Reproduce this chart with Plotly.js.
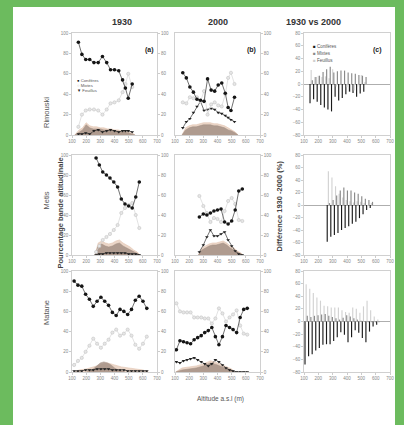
<!DOCTYPE html>
<html><head><meta charset="utf-8">
<script src="https://cdn.plot.ly/plotly-3.0.1.min.js"></script>
<style>html,body{margin:0;padding:0;background:#6cbb5e;}#chart{width:404px;height:425px;}</style>
</head><body><div id="chart"></div>
<script>
// ---------- DATA ----------
const altTicks = [100, 200, 300, 400, 500, 600, 700];
const seriesNames = ['Conifères', 'Mixtes', 'Feuillus'];
const colTitles = ['1930', '2000', '1930 vs 2000'];
const rowNames = ['Rimouski', 'Metis', 'Matane'];
const panelTags = ['(a)', '(b)', '(c)'];

// Rimouski 1930
const rimAlt30 = [145,170,197,225,255,285,315,345,372,400,430,457,477,497,525];
const rimCon30 = [91,79,74,74,71,71,77,71,64,64,63,54,46,36,50];
const rimMix30 = [8,20,24,25,25,24,20,25,31,32,34,42,50,60,47];
const rimFeu30 = [1,1,2,1,4,5,3,4,5,4,3,4,4,4,3];
const rimSAlt30 = [120,150,175,200,225,250,275,300,325,350,375,400,425,450,475,500,525,545];
const rimSDark30 = [0,3,5,10,7,6,6,6,5,5,5,4,4,3,3,2,1,0];
const rimSLight30 = [0,5,7,12,9,8,8,7,7,6,6,5,5,4,4,3,2,0];
// Rimouski 2000
const rimAlt00 = [155,180,205,230,255,280,305,330,355,380,405,430,455,475,495,520];
const rimCon00 = [61,56,47,42,35,34,33,55,44,43,49,51,41,27,24,37];
const rimMix00 = [32,31,37,36,37,33,43,20,30,32,29,28,40,56,61,50];
const rimFeu00 = [7,13,16,22,28,33,24,25,26,25,22,21,19,17,15,13];
const rimSAlt00 = [150,175,200,225,250,275,300,325,350,375,400,425,450,475,500,525,545];
const rimSDark00 = [0,5,7,8,8,9,10,10,10,9,9,8,7,5,4,2,0];
const rimSLight00 = [0,7,9,10,10,11,12,12,12,11,11,10,9,7,5,3,0];
// Rimouski difference
const rimDAlt = [150,175,200,225,250,275,300,325,350,375,400,425,450,475,500,525];
const rimDCon = [-30,-24,-28,-33,-37,-40,-43,-20,-26,-22,-16,-12,-14,-20,-15,-12];
const rimDMix = [22,11,13,11,12,9,23,-4,0,0,-5,-12,-10,-4,14,3];
const rimDFeu = [6,11,13,19,23,27,18,20,21,21,18,17,16,14,13,11];

// Metis 1930
const metAlt30 = [270,293,317,343,368,395,422,448,474,500,525,550,575];
const metCon30 = [97,90,83,80,77,73,68,56,51,49,47,58,73];
const metMix30 = [3,9,15,18,21,25,30,42,47,50,52,40,27];
const metFeu30 = [0,1,1,2,2,2,2,2,2,1,1,1,0];
const metSAlt30 = [262,285,310,335,360,385,410,435,460,485,510,535,560,580];
const metSDark30 = [0,9,11,9,8,9,11,12,9,7,5,3,1,0];
const metSLight30 = [0,12,14,12,11,12,14,15,12,10,8,5,3,0];
// Metis 2000
const metAlt00 = [272,300,325,350,375,400,425,450,475,500,525,550,575];
const metCon00 = [38,41,40,42,44,45,46,33,31,34,45,64,66];
const metMix00 = [59,49,42,33,37,36,33,44,54,57,51,35,34];
const metFeu00 = [3,10,18,25,19,19,21,23,15,9,4,1,0];
const metSAlt00 = [265,290,315,340,365,390,415,440,465,490,515,540,565,580];
const metSDark00 = [0,5,7,9,10,10,11,12,10,7,5,3,1,0];
const metSLight00 = [0,7,9,11,12,12,13,14,12,9,7,4,2,0];
// Metis difference
const metDAlt = [270,295,320,345,370,395,420,445,470,495,520,545,570];
const metDCon = [-59,-51,-48,-45,-40,-37,-34,-30,-27,-21,-15,-8,-5];
const metDMix = [54,44,30,18,12,8,6,4,6,5,3,-2,3];
const metDFeu = [3,8,15,23,28,23,23,20,18,14,10,8,5];

// Matane 1930
const matAlt30 = [115,142,169,196,223,250,277,304,331,358,385,412,439,466,493,520,547,574,601,628];
const matCon30 = [90,86,85,77,72,65,70,74,70,66,59,56,62,60,57,62,71,75,70,63];
const matMix30 = [7,11,14,20,26,33,28,24,28,32,39,42,36,38,42,36,27,23,28,35];
const matFeu30 = [1,1,1,2,2,2,3,3,3,3,2,2,2,2,1,1,1,1,1,1];
const matSAltD30 = [200,225,250,275,300,325,350,375,400,425,450,475];
const matSDark30 = [0,1,3,6,9,10,9,7,4,2,1,0];
const matSAltL30 = [120,150,200,250,300,350,400,450,500,550,600,640];
const matSLight30 = [0,2,3,5,7,9,7,5,4,3,2,0];
// Matane 2000
const matAlt00 = [110,135,160,185,210,235,260,285,310,335,360,385,410,435,460,485,510,535,560,585,610];
const matCon00 = [22,31,30,29,28,32,34,36,39,41,44,35,27,35,46,44,42,39,54,62,63];
const matMix00 = [68,60,59,59,59,54,54,54,53,53,48,53,63,58,50,54,57,61,46,38,37];
const matFeu00 = [10,9,11,12,13,14,12,10,8,6,8,12,10,7,4,2,1,0,0,0,0];
const matSAlt00 = [105,150,200,250,300,350,400,450,500,520];
const matSDark00 = [0,2,3,4,6,9,7,4,2,0];
const matSLight00 = [0,4,5,6,8,11,9,6,3,0];
// Matane difference
const matDAlt = [115,140,165,190,215,240,265,290,315,340,365,390,415,440,465,490,515,540,565,590,615];
const matDCon = [-68,-55,-52,-46,-42,-37,-36,-36,-31,-25,-17,-21,-33,-25,-14,-18,-26,-33,-16,-8,-5];
const matDMix = [59,52,45,38,33,25,24,22,22,22,18,15,14,22,20,14,24,33,18,8,3];
const matDFeu = [9,7,9,10,11,12,9,7,5,3,6,10,8,5,3,1,0,-1,-1,-1,-1];

// ---------- LAYOUT HELPERS ----------
const W = 404, H = 425;
const FONT = 'Liberation Sans, Arial, sans-serif';
const colX = [[72,157],[175,260],[304,390]];
const rowY = [[33,135],[155,255],[271,372]];
const px = v => v / W, py = v => 1 - v / H;

const lines = [
  {row:0, alt:rimAlt30, con:rimCon30, mix:rimMix30, feu:rimFeu30, sAltD:rimSAlt30, sD:rimSDark30, sAltL:rimSAlt30, sL:rimSLight30, col:0},
  {row:0, alt:rimAlt00, con:rimCon00, mix:rimMix00, feu:rimFeu00, sAltD:rimSAlt00, sD:rimSDark00, sAltL:rimSAlt00, sL:rimSLight00, col:1},
  {row:1, alt:metAlt30, con:metCon30, mix:metMix30, feu:metFeu30, sAltD:metSAlt30, sD:metSDark30, sAltL:metSAlt30, sL:metSLight30, col:0},
  {row:1, alt:metAlt00, con:metCon00, mix:metMix00, feu:metFeu00, sAltD:metSAlt00, sD:metSDark00, sAltL:metSAlt00, sL:metSLight00, col:1},
  {row:2, alt:matAlt30, con:matCon30, mix:matMix30, feu:matFeu30, sAltD:matSAltD30, sD:matSDark30, sAltL:matSAltL30, sL:matSLight30, col:0},
  {row:2, alt:matAlt00, con:matCon00, mix:matMix00, feu:matFeu00, sAltD:matSAlt00, sD:matSDark00, sAltL:matSAlt00, sL:matSLight00, col:1}
];
const diffs = [
  {row:0, alt:rimDAlt, con:rimDCon, mix:rimDMix, feu:rimDFeu},
  {row:1, alt:metDAlt, con:metDCon, mix:metDMix, feu:metDFeu},
  {row:2, alt:matDAlt, con:matDCon, mix:matDMix, feu:matDFeu}
];

const traces = [];
const layout = {
  width: W, height: H,
  margin: {l:0, r:0, t:0, b:0},
  paper_bgcolor: '#6cbb5e',
  plot_bgcolor: 'white',
  showlegend: false,
  barmode: 'group', bargap: 0.04, bargroupgap: 0,
  font: {family: FONT, color: '#444'},
  shapes: [{type:'rect', xref:'paper', yref:'paper', x0:px(13), x1:px(395), y0:0, y1:py(7),
            fillcolor:'white', line:{width:0}, layer:'below'}],
  annotations: []
};
const tickFont = {family: FONT, size: 4.5, color: '#888'};
const axBase = {ticks:'outside', ticklen:2, tickwidth:0.6, tickcolor:'#aaa', showline:true,
  linecolor:'#c4c4c4', linewidth:0.8, mirror:true, showgrid:false, zeroline:false, tickfont:tickFont, fixedrange:true};

function ids(row, col) {
  const k = row*3 + col + 1;
  return {xa: k===1 ? 'x' : 'x'+k, ya: k===1 ? 'y' : 'y'+k,
          xk: k===1 ? 'xaxis' : 'xaxis'+k, yk: k===1 ? 'yaxis' : 'yaxis'+k};
}

for (let r = 0; r < 3; r++) {
  for (let c = 0; c < 3; c++) {
    const id = ids(r, c);
    layout[id.xk] = Object.assign({}, axBase, {
      domain:[px(colX[c][0]), px(colX[c][1])], anchor:id.ya,
      range:[100,700], tickvals:altTicks, ticktext:altTicks.map(String)});
    if (c < 2) {
      layout[id.yk] = Object.assign({}, axBase, {
        domain:[py(rowY[r][1]), py(rowY[r][0])], anchor:id.xa,
        range:[0,100], dtick:20, side: c===0 ? 'left' : 'right'});
    } else {
      layout[id.yk] = Object.assign({}, axBase, {
        domain:[py(rowY[r][1]), py(rowY[r][0])], anchor:id.xa,
        range:[-80,80], dtick:20, side:'left',
        zeroline:true, zerolinecolor:'#9a9a9a', zerolinewidth:0.8});
    }
  }
  // right-side labels for column a
  const ida = ids(r, 0);
  const rk = 'yaxis' + (10 + r);
  layout[rk] = Object.assign({}, axBase, {overlaying: ida.ya, anchor: ida.xa, side:'right',
    range:[0,100], dtick:20, showline:false, mirror:false});
  traces.push({type:'scatter', x:[], y:[], xaxis:ida.xa, yaxis:'y'+(10+r), hoverinfo:'skip'});
}

lines.forEach(p => {
  const id = ids(p.row, p.col);
  traces.push({type:'scatter', mode:'lines', x:p.sAltL, y:p.sL, xaxis:id.xa, yaxis:id.ya,
    fill:'tozeroy', fillcolor:'rgba(233,210,194,0.9)', line:{color:'#e2c4b0', width:0.6}});
  traces.push({type:'scatter', mode:'lines', x:p.sAltD, y:p.sD, xaxis:id.xa, yaxis:id.ya,
    fill:'tozeroy', fillcolor:'rgba(165,145,133,0.85)', line:{color:'#a08d81', width:0.5}});
  traces.push({type:'scatter', mode:'lines+markers', name:seriesNames[2], x:p.alt, y:p.feu, xaxis:id.xa, yaxis:id.ya,
    line:{color:'#333', width:0.7}, marker:{symbol:'triangle-down', size:3.2, color:'#222'}});
  traces.push({type:'scatter', mode:'lines+markers', name:seriesNames[1], x:p.alt, y:p.mix, xaxis:id.xa, yaxis:id.ya,
    line:{color:'#d6d6d6', width:0.7}, marker:{symbol:'circle', size:3.2, color:'#e6e6e6', line:{color:'#c4c4c4', width:0.6}}});
  traces.push({type:'scatter', mode:'lines+markers', name:seriesNames[0], x:p.alt, y:p.con, xaxis:id.xa, yaxis:id.ya,
    line:{color:'#333', width:0.7}, marker:{symbol:'circle', size:3.6, color:'#151515'}});
});

const barColors = ['#1a1a1a', '#d2d2d2', '#8a8a8a'];
diffs.forEach(d => {
  const id = ids(d.row, 2);
  [d.con, d.mix, d.feu].forEach((vals, i) => {
    traces.push({type:'bar', name:seriesNames[i], x:d.alt, y:vals, xaxis:id.xa, yaxis:id.ya,
      marker:{color:barColors[i], line:{width:0}}});
  });
});

// ---------- ANNOTATIONS ----------
const A = layout.annotations;
function ann(text, x, y, o) {
  A.push(Object.assign({text, x:px(x), y:py(y), xref:'paper', yref:'paper', showarrow:false,
    font:{family:FONT, size:7.5, color:'#444'}}, o || {}));
}
const colCenters = [110, 218, 343];
colTitles.forEach((t, i) => ann('<b>'+t+'</b>', colCenters[i], 15, {font:{family:FONT, size:9, color:'#333'}}));
const tagX = [149, 251, 384];
panelTags.forEach((t, i) => ann('<b>'+t+'</b>', tagX[i], 44, {font:{family:FONT, size:7, color:'#222'}}));
const rowCenters = [95, 201, 327];
rowNames.forEach((t, i) => ann(t, 40, rowCenters[i], {textangle:-90, font:{family:FONT, size:7.5, color:'#555'}}));
ann('<b>Pourcentage bande altitudinale</b>', 53, 213, {textangle:-90, font:{family:FONT, size:7.5, color:'#444'}});
ann('<b>Différence 1930 -2000 (%)</b>', 286, 206, {textangle:-90, font:{family:FONT, size:7.5, color:'#444'}});
ann('Altitude a.s.l (m)', 220, 405, {font:{family:FONT, size:6.5, color:'#555'}});

// legends (as text)
const legA = ['<span style="color:#111">●</span>', '<span style="color:#aaa">○</span>', '<span style="color:#222">▼</span>'];
legA.forEach((s, i) => ann(s + ' ' + seriesNames[i], 75, 76 + i*5, {xanchor:'left', font:{family:FONT, size:4.2, color:'#555'}}));
const legC = ['<span style="color:#1a1a1a">■</span>', '<span style="color:#8a8a8a">■</span>', '<span style="color:#cfcfcf">■</span>'];
legC.forEach((s, i) => ann(s + ' ' + seriesNames[i], 311, 42 + i*7, {xanchor:'left', font:{family:FONT, size:4.5, color:'#555'}}));

Plotly.newPlot('chart', traces, layout, {staticPlot:true, displayModeBar:false});
</script></body></html>
